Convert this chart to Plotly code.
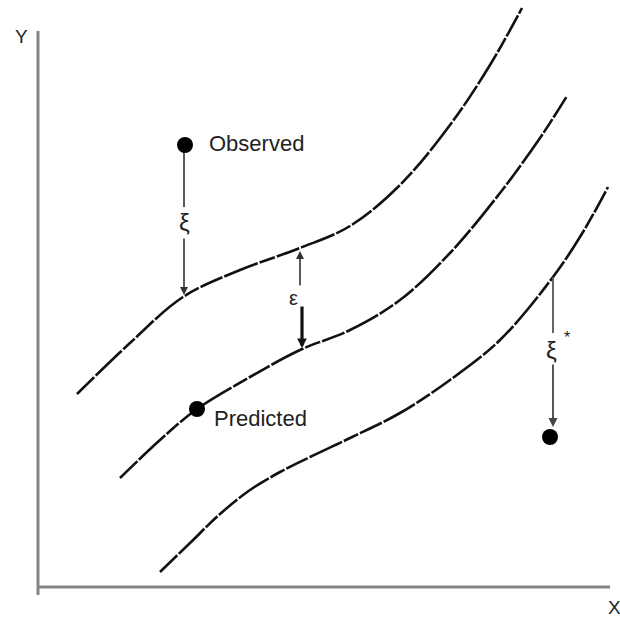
import plotly.graph_objects as go

# Tube boundaries and the regression curve (x, y in plot units)
upper_x = [39, 92, 145, 202, 262, 312, 362, 412, 452, 484]
upper_y = [193, 244, 290, 317, 339, 361, 402, 462, 522, 579]

middle_x = [82, 122, 159, 212, 262, 312, 362, 412, 462, 502, 529]
middle_y = [109, 147, 178, 210, 237, 257, 287, 334, 394, 449, 491]

lower_x = [122, 152, 182, 212, 242, 272, 312, 362, 412, 462, 515, 545, 570]
lower_y = [15, 44, 73, 97, 115, 130, 149, 174, 207, 247, 310, 355, 400]

# Observed / predicted points
obs_x, obs_y = 147, 442
pred_x, pred_y = 159, 178
obs2_x, obs2_y = 512, 150

# Axis extents
x_len = 572
y_len = 556

LINE = "#111111"
AXIS = "#858585"
TXT = "#222222"
FONT = "Liberation Sans, Arial, Helvetica, sans-serif"

fig = go.Figure()

# Axes
fig.add_trace(go.Scatter(x=[0, 0], y=[-8, y_len], mode="lines",
                         line=dict(color=AXIS, width=3), hoverinfo="skip"))
fig.add_trace(go.Scatter(x=[0, x_len], y=[0, 0], mode="lines",
                         line=dict(color=AXIS, width=3), hoverinfo="skip"))

# Curves
for xs, ys in [(upper_x, upper_y), (middle_x, middle_y), (lower_x, lower_y)]:
    fig.add_trace(go.Scatter(x=xs, y=ys, mode="lines",
                             line=dict(color=LINE, width=2.6, shape="spline",
                                       smoothing=1.0,
                                       dash="24px,2px,36px,2px,16px,2px"),
                             hoverinfo="skip"))

# Slack line for the observed point above the tube
fig.add_trace(go.Scatter(x=[obs_x - 1, obs_x - 1], y=[obs_y - 6, 380], mode="lines",
                         line=dict(color="#333333", width=1.6), hoverinfo="skip"))
# Slack line for the observed point below the tube
fig.add_trace(go.Scatter(x=[515, 515], y=[310, 254], mode="lines",
                         line=dict(color="#555555", width=1.8), hoverinfo="skip"))

# Data points
fig.add_trace(go.Scatter(x=[obs_x, pred_x, obs2_x], y=[obs_y, pred_y, obs2_y],
                         mode="markers",
                         marker=dict(color="#000000", size=16, symbol="circle"),
                         hoverinfo="skip"))

def arrow(x0, y0, x1, y1, width=1.6, color="#333333", size=1.0):
    fig.add_annotation(x=x1, y=y1, ax=x0, ay=y0, xref="x", yref="y",
                       axref="x", ayref="y", text="", showarrow=True,
                       arrowhead=2, arrowsize=size, arrowwidth=width,
                       arrowcolor=color)

# xi arrow down to the upper boundary
arrow(146, 350, 146, 292)
# epsilon arrows between upper boundary and regression curve
arrow(262, 300, 262, 336, width=1.6)
arrow(264, 282, 264, 239, width=3.2, color="#111111", size=0.6)
# xi* arrow down to the lower observed point
arrow(515, 224, 515, 160, width=1.8, color="#444444")

# Labels
def label(x, y, text, size, xanchor="center"):
    fig.add_annotation(x=x, y=y, xref="x", yref="y", text=text, showarrow=False,
                       font=dict(family=FONT, size=size, color=TXT),
                       xanchor=xanchor, yanchor="middle")

label(169, 444, "Observed", 22, "left")
label(174, 169, "Predicted", 22, "left")
label(146, 365, "ξ", 24)
label(255, 289, "ε", 20)
label(513, 237, "ξ", 24)
label(529, 250, "*", 16)
label(-17, 551, "Y", 19)
label(576, -20, "X", 19)

fig.update_layout(
    width=620, height=619,
    margin=dict(l=0, r=0, t=0, b=0),
    paper_bgcolor="white", plot_bgcolor="white",
    showlegend=False,
    xaxis=dict(range=[-38, 582], visible=False, fixedrange=True),
    yaxis=dict(range=[-32, 587], visible=False, fixedrange=True),
)

fig.write_html("out.html")
